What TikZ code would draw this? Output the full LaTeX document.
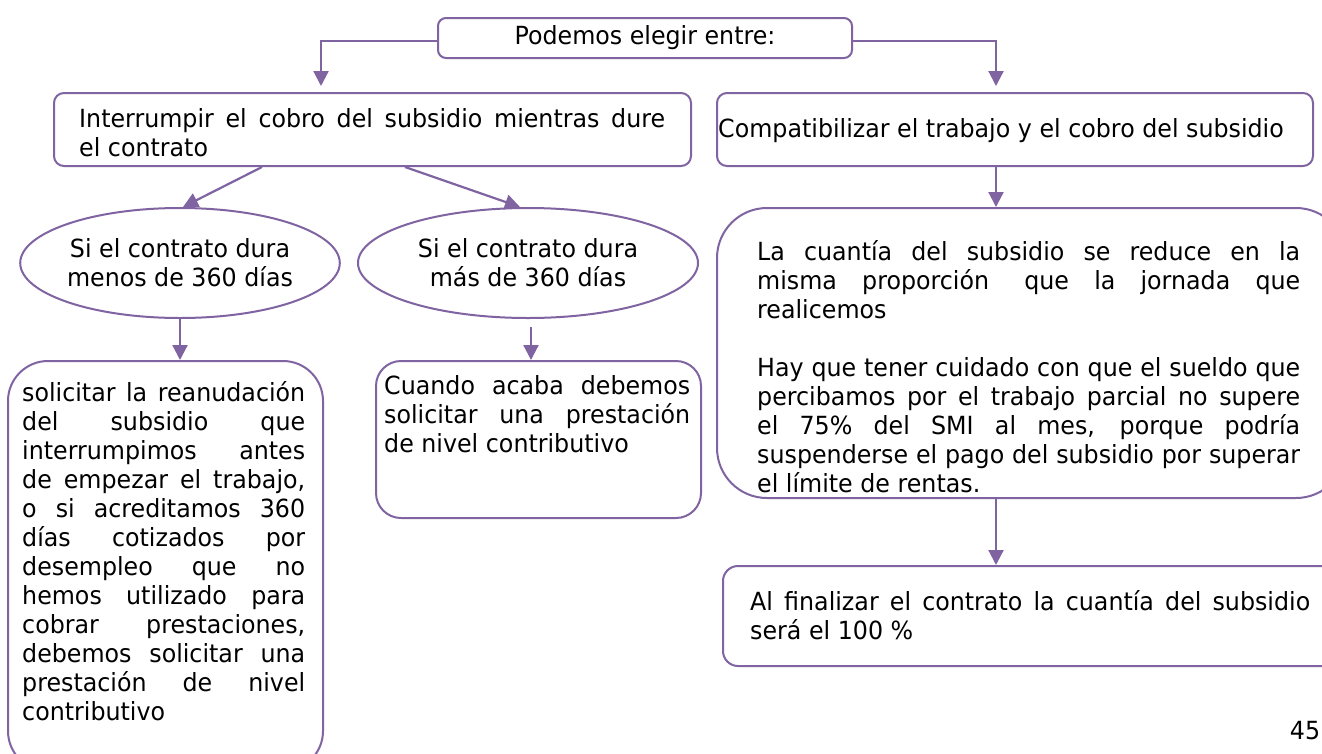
\documentclass[tikz,border=0pt]{standalone}
\usepackage{fontspec}
\setmainfont{DejaVu Sans}[FakeStretch=0.95]
\usetikzlibrary{arrows.meta,calc,shapes.geometric}
\definecolor{pl}{HTML}{8064A2}
\setlength{\parindent}{0pt}
\newcommand\fs{\fontsize{25}{29}\selectfont}
\tikzset{
 conn/.style={draw=pl, line width=2.2pt, -{Triangle[length=15pt,width=15pt]}},
 rbox/.style={draw=pl, line width=2pt, rounded corners=#1, inner sep=0pt, anchor=north west},
 txt/.style={inner sep=0pt, align=justify, font=\fs, anchor=north west},
 ell/.style={ellipse, draw=pl, line width=2pt, inner sep=0pt, align=center, font=\fs},
}
\begin{document}
\begin{tikzpicture}[x=1pt,y=-1pt]
\useasboundingbox (0,0) rectangle (1322,753);
\fill[white] (0,0) rectangle (1322,753);
% boxes
\node[rbox=8pt, minimum width=414pt, minimum height=40pt, font=\fs] (top) at (437,17) {Podemos elegir entre:};
\node[rbox=10pt, minimum width=637pt, minimum height=73pt] (b2) at (53,92) {};
\node[rbox=10pt, minimum width=596pt, minimum height=73pt] (b3) at (716,92) {};
\node[ell, minimum width=316pt, minimum height=110pt] (e1) at (180,263) {Si el contrato dura\\menos de 360 días};
\node[ell, minimum width=340pt, minimum height=110pt] (e2) at (528,263) {Si el contrato dura\\más de 360 días};
\node[rbox=40pt, minimum width=315pt, minimum height=410pt] (b4) at (7,360) {};
\node[rbox=25pt, minimum width=325pt, minimum height=157pt] (b5) at (375,360) {};
\node[rbox=50pt, minimum width=629pt, minimum height=290pt] (b6) at (716,207) {};
\node[rbox=15pt, minimum width=623pt, minimum height=100pt] (b7) at (722,565) {};
% texts
\node[txt, text width=586pt] (t2) at (79,107) {\strut Interrumpir el cobro del subsidio mientras dure\linebreak el contrato};
\node[inner sep=0pt, font=\fs, anchor=west] (t3) at (718,131) {Compatibilizar el trabajo y el cobro del subsidio};
\node[txt, text width=283pt] (t4) at (22,381) {\strut solicitar la reanudación\linebreak del subsidio que\linebreak interrumpimos antes\linebreak de empezar el trabajo,\linebreak o si acreditamos 360\linebreak días cotizados por\linebreak desempleo que no\linebreak hemos utilizado para\linebreak cobrar prestaciones,\linebreak debemos solicitar una\linebreak prestación de nivel\linebreak contributivo};
\node[txt, text width=306pt] (t5) at (384,374) {\strut Cuando acaba debemos\linebreak solicitar una prestación\linebreak de nivel contributivo};
\node[txt, text width=543pt] (t6) at (757,239.5) {\strut La cuantía del subsidio se reduce en la\linebreak misma proporción\hspace{10pt} que la jornada que\linebreak realicemos\par\vspace{29pt}Hay que tener cuidado con que el sueldo que\linebreak percibamos por el trabajo parcial no supere\linebreak el 75\% del SMI al mes, porque podría\linebreak suspenderse el pago del subsidio por superar\linebreak el límite de rentas.};
\node[txt, text width=560pt] (t7) at (750,590) {\strut Al finalizar el contrato la cuantía del subsidio\linebreak será el 100 \%};
\node[inner sep=0pt, font=\fs] (pg) at (1305,731) {45};
% connectors
\draw[conn] ($(top.west)+(0,3)$) -| ($(b2.north west)+(268,-6)$);
\draw[conn] ($(top.east)+(0,3)$) -| ($(b3.north west)+(280,-6)$);
\draw[conn] ($(b2.south west)+(209,0)$) -- ($(e1.north)+(3,0)$);
\draw[conn] ($(b2.south west)+(352,0)$) -- ($(e2.north)+(-8,0)$);
\draw[conn] (e1.south) -- (e1.south |- b4.north);
\draw[conn] ($(e2.south)+(3,8)$) -- ($(e2.south |- b5.north)+(3,0)$);
\draw[conn] ($(b3.south west)+(280,0)$) -- ($(b3.south west |- b6.north)+(280,0)$);
\draw[conn] ($(b6.south west)+(280,0)$) -- ($(b6.south west |- b7.north)+(280,0)$);
\end{tikzpicture}
\end{document}
